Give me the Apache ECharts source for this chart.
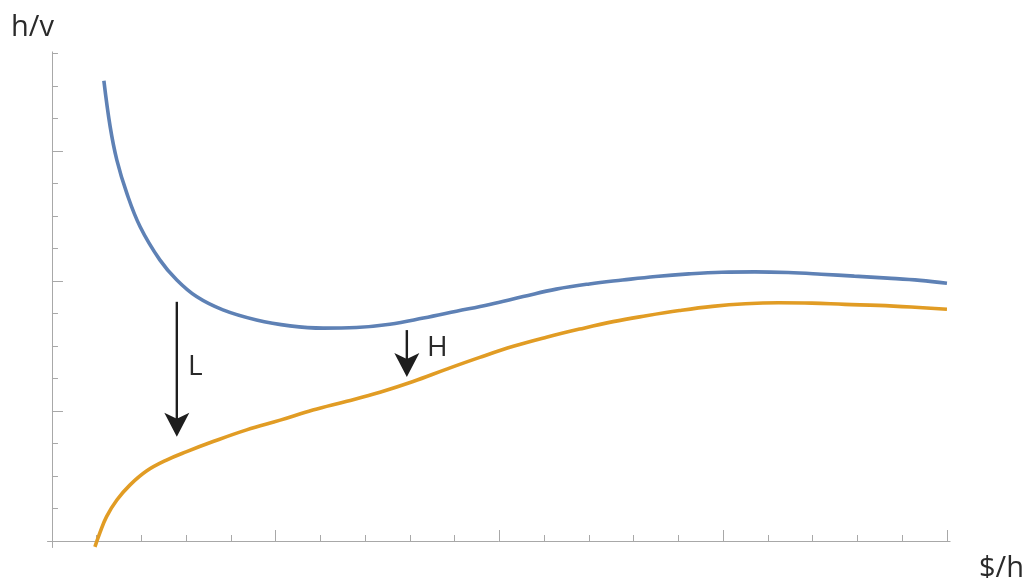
<!DOCTYPE html>
<html>
<head>
<meta charset="utf-8">
<script src="https://cdn.jsdelivr.net/npm/echarts@6/dist/echarts.min.js"></script>
<style>
html,body{margin:0;padding:0;background:#fff;}
#chart{width:1027px;height:578px;}
</style>
</head>
<body>
<div id="chart"></div>
<script>
// Upper (blue) curve: [$/h, h/v]
const upperCurve = [
  [1.16,14.16],[1.30,12.75],[1.45,11.72],[1.67,10.71],[1.97,9.67],[2.41,8.65],
  [2.79,8.03],[3.23,7.52],[3.82,7.11],[4.57,6.80],[5.32,6.62],[6.06,6.55],
  [6.80,6.57],[7.55,6.67],[8.30,6.86],[9.04,7.07],[9.78,7.28],[10.53,7.52],
  [11.27,7.75],[12.01,7.91],[12.75,8.03],[13.49,8.14],[14.23,8.22],[14.97,8.27],
  [15.71,8.28],[16.45,8.26],[17.19,8.21],[17.93,8.15],[18.67,8.09],[19.40,8.02],
  [20.00,7.93]
];
// Lower (orange) curve
const lowerCurve = [
  [0.96,-0.18],[1.07,0.25],[1.22,0.75],[1.45,1.26],[1.74,1.72],[2.12,2.16],
  [2.56,2.49],[3.01,2.75],[3.60,3.06],[4.35,3.42],[5.10,3.72],[5.83,4.03],
  [6.59,4.30],[7.33,4.58],[8.07,4.91],[8.82,5.29],[9.56,5.65],[10.31,5.99],
  [11.05,6.27],[11.79,6.52],[12.54,6.75],[13.28,6.93],[14.02,7.09],[14.76,7.22],
  [15.50,7.30],[16.24,7.33],[16.98,7.32],[17.72,7.28],[18.46,7.25],[19.20,7.20],
  [20.00,7.13]
];
// Annotation arrows: x, top y, tip y, label, label anchor (data coords)
const arrowX = [2.79, 7.93];
const arrowTop = [7.36, 6.49];
const arrowTip = [3.21, 5.05];
const arrowLabels = ['L', 'H'];
const labelX = [3.04, 8.38];
const labelY = [5.35, 5.94];

// Tick values
const xMinorTicks = [1,2,3,4,5,6,7,8,9,10,11,12,13,14,15,16,17,18,19,20];
const xMajorTicks = [5,10,15,20];
const yMinorTicks = [1,2,3,4,5,6,7,8,9,10,11,12,13,14,15];
const yMajorTicks = [4,8,12];

const axisName = {x: '$/h', y: 'h/v'};

const AXIS_COLOR = '#a8a8a8';
const FONT = '"Open Sans", "DejaVu Sans", sans-serif';

const arrowData = arrowX.map((x, i) => [x, arrowTop[i], arrowTip[i], labelX[i], labelY[i], arrowLabels[i]]);

function xAxisCfg(ticks, len, showLine) {
  return {
    type: 'value', min: -0.1, max: 20.07, gridIndex: 0, position: 'bottom',
    axisLine: {show: showLine, onZero: true, lineStyle: {color: AXIS_COLOR, width: 1}},
    axisTick: {show: true, inside: true, length: len, customValues: ticks, lineStyle: {color: AXIS_COLOR, width: 1}},
    axisLabel: {show: false}, splitLine: {show: false}
  };
}
function yAxisCfg(ticks, len, showLine) {
  return {
    type: 'value', min: -0.2, max: 15.05, gridIndex: 0, position: 'left',
    axisLine: {show: showLine, onZero: true, lineStyle: {color: AXIS_COLOR, width: 1}},
    axisTick: {show: true, inside: true, length: len, customValues: ticks, lineStyle: {color: AXIS_COLOR, width: 1}},
    axisLabel: {show: false}, splitLine: {show: false}
  };
}

const chart = echarts.init(document.getElementById('chart'), null, {renderer: 'canvas'});
chart.setOption({
  animation: false,
  backgroundColor: '#ffffff',
  grid: {left: 47.5, right: 76.9, top: 51.9, bottom: 30.5, containLabel: false},
  xAxis: [xAxisCfg(xMinorTicks, 6, true), xAxisCfg(xMajorTicks, 11, false)],
  yAxis: [yAxisCfg(yMinorTicks, 6, true), yAxisCfg(yMajorTicks, 11, false)],
  graphic: [
    {type: 'text', left: 11, top: 13, style: {text: axisName.y, font: '29px ' + FONT, fill: '#2a2a2a'}},
    {type: 'text', left: 979, top: 554, style: {text: axisName.x, font: '29px ' + FONT, fill: '#2a2a2a'}}
  ],
  series: [
    {
      type: 'line', data: upperCurve, xAxisIndex: 0, yAxisIndex: 0,
      showSymbol: false, smooth: 0.4, clip: false,
      lineStyle: {color: '#5E81B5', width: 3.6}
    },
    {
      type: 'line', data: lowerCurve, xAxisIndex: 0, yAxisIndex: 0,
      showSymbol: false, smooth: 0.4, clip: false,
      lineStyle: {color: '#E19C24', width: 3.6}
    },
    {
      type: 'custom', xAxisIndex: 0, yAxisIndex: 0, clip: false,
      data: arrowData,
      renderItem: function (params, api) {
        const top = api.coord([api.value(0), api.value(1)]);
        const tip = api.coord([api.value(0), api.value(2)]);
        const lab = api.coord([api.value(3), api.value(4)]);
        const text = arrowLabels[params.dataIndex];
        const headLen = 24, headHalf = 12.5, notch = 18;
        return {
          type: 'group',
          children: [
            {type: 'line', shape: {x1: top[0], y1: top[1], x2: tip[0], y2: tip[1] - notch + 2},
              style: {stroke: '#1e1e1e', lineWidth: 2.4}},
            {type: 'polygon', shape: {points: [
                [tip[0], tip[1]],
                [tip[0] - headHalf, tip[1] - headLen],
                [tip[0], tip[1] - notch],
                [tip[0] + headHalf, tip[1] - headLen]
              ]}, style: {fill: '#1e1e1e'}},
            {type: 'text', x: lab[0], y: lab[1],
              style: {text: text, font: '28px ' + FONT, fill: '#2a2a2a', align: 'left', verticalAlign: 'middle'}}
          ]
        };
      }
    }
  ]
});
</script>
</body>
</html>
